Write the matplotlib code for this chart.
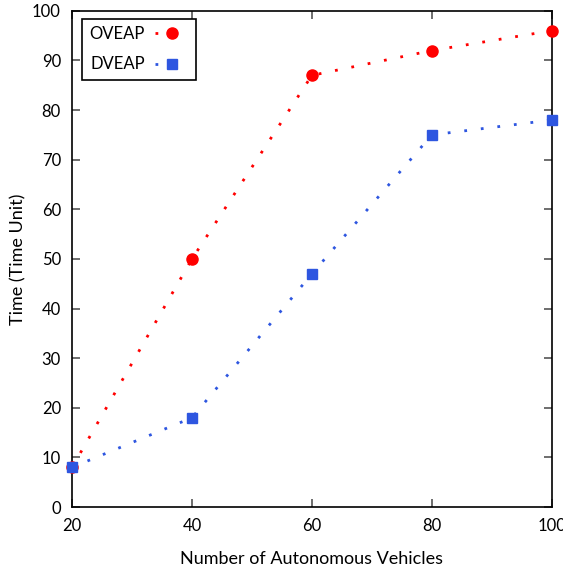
import matplotlib.pyplot as plt

plt.rcParams['font.family'] = ['Lato', 'DejaVu Sans']

vehicles = [20, 40, 60, 80, 100]
oveap = [8, 50, 87, 92, 96]
dveap = [8, 18, 47, 75, 78]

fig = plt.figure(figsize=(5.63, 5.71), dpi=100)
ax = fig.add_axes([0.128, 0.112, 0.852, 0.869])

ax.plot(vehicles, oveap, color='#ff0000', linestyle=(0, (1, 5)), linewidth=2,
        marker='o', markersize=8, label='OVEAP', clip_on=False, zorder=3)
ax.plot(vehicles, dveap, color='#2e56e0', linestyle=(0, (1, 5)), linewidth=2,
        marker='s', markersize=7.5, label='DVEAP', clip_on=False, zorder=4)

ax.set_xlim(20, 100)
ax.set_ylim(0, 100)
ax.set_xticks(vehicles)
ax.set_yticks(range(0, 101, 10))
ax.tick_params(direction='in', top=True, right=True, length=6, width=1.2,
               labelsize=12, pad=8, color='#555555')
for s in ax.spines.values():
    s.set_linewidth(1.2)

ax.set_xlabel('Number of Autonomous Vehicles', fontsize=13, labelpad=12)
ax.set_ylabel('Time (Time Unit)', fontsize=13, labelpad=4)

leg = ax.legend(loc='upper left', bbox_to_anchor=(0.021, 0.984), fontsize=12,
                fancybox=False, edgecolor='black', framealpha=1,
                handlelength=2.0, handletextpad=0.6, borderpad=0.45,
                labelspacing=0.85, borderaxespad=0, markerfirst=False)
leg.get_frame().set_linewidth(1.2)

fig.savefig('out.png', dpi=100)
